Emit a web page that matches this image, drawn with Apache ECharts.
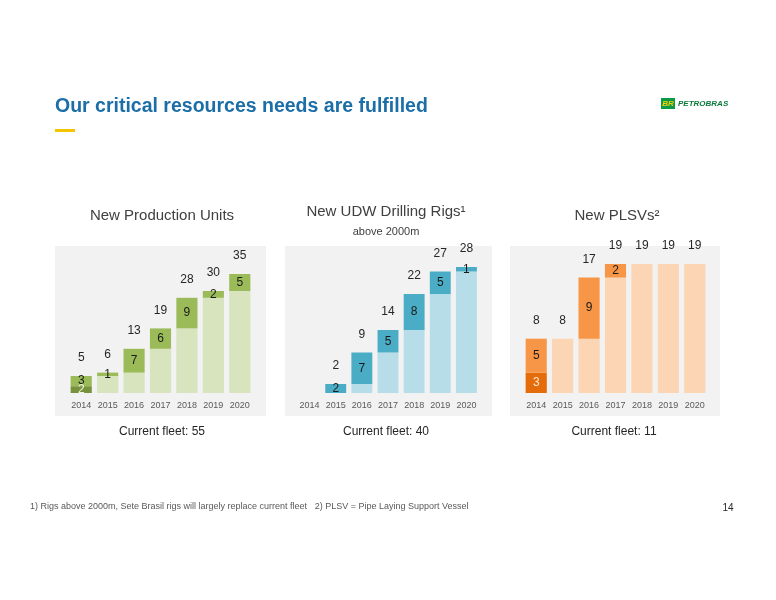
<!DOCTYPE html>
<html><head><meta charset="utf-8">
<script src="https://cdn.jsdelivr.net/npm/echarts@6/dist/echarts.min.js"></script>
<style>html,body{margin:0;padding:0;background:#fff}#c{width:776px;height:600px}</style>
</head><body><div id="c"></div>
<script>
const years = ['2014','2015','2016','2017','2018','2019','2020'];
// New Production Units
const puDark = [2,0,0,0,0,0,0];
const puBase = [0,5,6,13,19,28,30];
const puNew = [3,1,7,6,9,2,5];
const puTotal = [5,6,13,19,28,30,35];
// New UDW Drilling Rigs
const rigBase = [0,0,2,9,14,22,27];
const rigNew = [0,2,7,5,8,5,1];
const rigTotal = [null,2,9,14,22,27,28];
// New PLSVs
const plDark = [3,0,0,0,0,0,0];
const plBase = [0,8,8,17,19,19,19];
const plNew = [5,0,9,2,0,0,0];
const plTotal = [8,8,17,19,19,19,19];

const FONT = "'Liberation Sans Narrow','Liberation Sans',Arial,sans-serif";
const grids = [
  {left:68, width:185, top:274, height:119},
  {left:296.5, width:183, top:267, height:126},
  {left:523, width:185, top:264, height:129}
];
const maxes = [35,28,19];
const xAxes = grids.map((g,i)=>({type:'category',gridIndex:i,data:years,axisLine:{show:false},axisTick:{show:false},
  axisLabel:{color:'#595959',fontSize:9,fontFamily:FONT,margin:8,interval:0}}));
const yAxes = grids.map((g,i)=>({type:'value',gridIndex:i,min:0,max:maxes[i],show:false}));
function ser(i,data,color,labelColor){
  return {type:'bar',xAxisIndex:i,yAxisIndex:i,stack:'s'+i,data:data,barCategoryGap:'20%',
    itemStyle:{color:color},silent:true,
    label:{show:!!labelColor,position:'inside',color:labelColor,fontSize:12,fontFamily:FONT,
      formatter:p=>p.value>0?p.value:''}};
}
function tot(i,totals){
  return {type:'bar',xAxisIndex:i,yAxisIndex:i,stack:'s'+i,data:totals.map(()=>0),barCategoryGap:'20%',
    itemStyle:{color:'transparent'},
    label:{show:true,position:'top',distance:12,color:'#262626',fontSize:12,fontFamily:FONT,
      formatter:p=>totals[p.dataIndex]==null?'':totals[p.dataIndex]}};
}
const series = [
  ser(0,puDark,'#76923c','#eef3e2'),ser(0,puBase,'#d7e4bd',null),ser(0,puNew,'#9bbb59','#1a1a1a'),tot(0,puTotal),
  ser(1,rigBase,'#b7dde8',null),ser(1,rigNew,'#4bacc6','#1a1a1a'),tot(1,rigTotal),
  ser(2,plDark,'#e46c0a','#fde9d9'),ser(2,plBase,'#fcd5b5',null),ser(2,plNew,'#f79646','#1a1a1a'),tot(2,plTotal)
];
const txt=(x,y,t,size,color,extra)=>Object.assign({type:'text',x:x,y:y,style:{text:t,fontSize:size,fill:color,fontFamily:FONT,textAlign:'center',textVerticalAlign:'middle'}},extra||{});
const graphic = [
  {type:'rect',shape:{x:55,y:246,width:211,height:170},style:{fill:'#f2f2f2'},z:-10},
  {type:'rect',shape:{x:285,y:246,width:207,height:170},style:{fill:'#f2f2f2'},z:-10},
  {type:'rect',shape:{x:510,y:246,width:210,height:170},style:{fill:'#f2f2f2'},z:-10},
  {type:'text',x:55,y:107,style:{text:'Our critical resources needs are fulfilled',fontSize:19.5,fontWeight:'bold',fill:'#1b6ea8',fontFamily:"'Liberation Sans',Arial,sans-serif",textVerticalAlign:'middle'}},
  {type:'rect',shape:{x:55,y:129,width:20,height:3},style:{fill:'#f5c400'}},
  {type:'rect',shape:{x:661,y:98,width:14,height:11},style:{fill:'#0a9a48'}},
  {type:'text',x:668,y:104,style:{text:'BR',fontSize:8,fontWeight:'bold',fontStyle:'italic',fill:'#f5d000',fontFamily:"'Liberation Sans',Arial",textAlign:'center',textVerticalAlign:'middle'}},
  {type:'text',x:678,y:104,style:{text:'PETROBRAS',fontSize:8,fontWeight:'bold',fontStyle:'italic',fill:'#0a7a3a',fontFamily:"'Liberation Sans',Arial",textVerticalAlign:'middle'}},
  txt(162,216,'New Production Units',15,'#404040'),
  txt(386,212,'New UDW Drilling Rigs¹',15,'#404040'),
  txt(386,232,'above 2000m',11,'#404040'),
  txt(617,216,'New PLSVs²',15,'#404040'),
  txt(162,432,'Current fleet: 55',12,'#262626'),
  txt(386,432,'Current fleet: 40',12,'#262626'),
  txt(614,432,'Current fleet: 11',12,'#262626'),
  {type:'text',x:30,y:507,style:{text:'1) Rigs above 2000m, Sete Brasil rigs will largely replace current fleet   2) PLSV = Pipe Laying Support Vessel',fontSize:9,fill:'#595959',fontFamily:FONT,textVerticalAlign:'middle'}},
  txt(728,508,'14',10,'#262626')
];
const chart = echarts.init(document.getElementById('c'));
chart.setOption({animation:false,grid:grids,xAxis:xAxes,yAxis:yAxes,series:series,graphic:graphic});
</script></body></html>
